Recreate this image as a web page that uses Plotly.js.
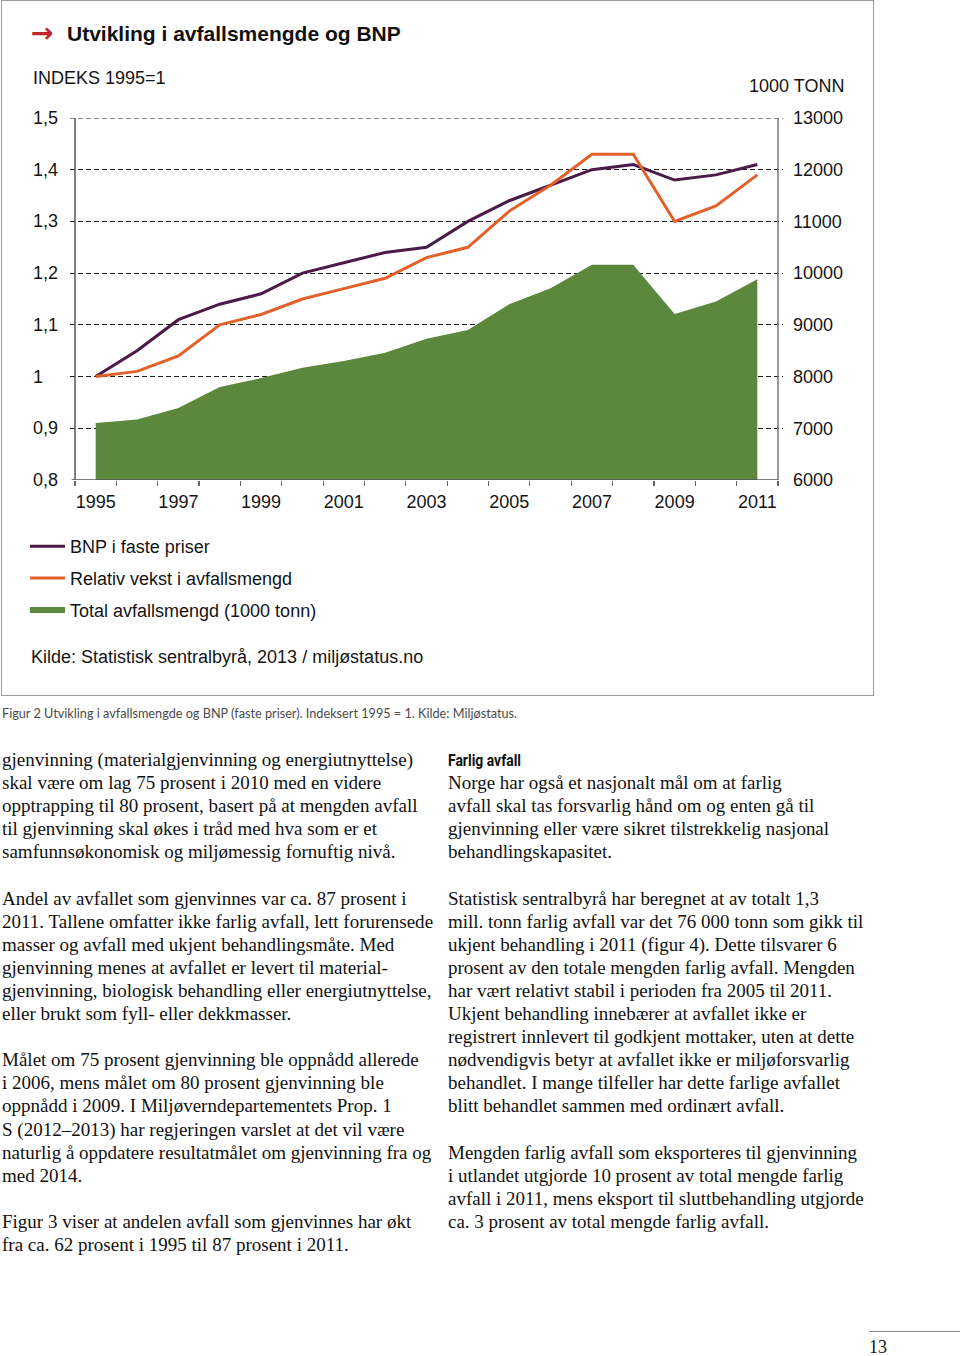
<!DOCTYPE html>
<html><head><meta charset="utf-8">
<script src="https://cdn.plot.ly/plotly-3.0.1.min.js"></script>
<style>
html,body{margin:0;padding:0;background:#fff;width:960px;height:1356px;overflow:hidden;position:relative;}
#box{position:absolute;left:1px;top:0;width:871px;height:694px;border:1px solid #9d9d9d;}
#chart{position:absolute;left:0;top:0;width:960px;height:700px;}
#caption{position:absolute;left:2px;top:705px;font-family:Lato,'Open Sans',sans-serif;font-size:13.5px;color:#4a4a4a;white-space:nowrap;transform-origin:0 0;}
.col{position:absolute;top:749px;font-family:'Liberation Serif',serif;font-size:18.3px;line-height:23.1px;color:#111;white-space:nowrap;transform-origin:0 0;}
#left{left:2px;}
#right{left:448px;}
.head{font-family:'Liberation Sans Narrow',Roboto,'Liberation Sans',sans-serif;font-weight:bold;font-size:16px;display:inline-block;transform-origin:0 50%;}
#pline{position:absolute;left:869px;top:1331px;width:91px;height:1px;background:#8a8a8a;}
#pnum{position:absolute;left:869px;top:1337px;font-family:'Liberation Serif',serif;font-size:18px;color:#151515;}
</style></head>
<body>
<div id="box"></div>
<div id="chart"></div>
<div id="caption">Figur 2 Utvikling i avfallsmengde og BNP (faste priser). Indeksert 1995 = 1. Kilde: Miljøstatus.</div>
<div class="col" id="left"><span id="lref">gjenvinning (materialgjenvinning og energiutnyttelse)</span><br>skal være om lag 75 prosent i 2010 med en videre<br>opptrapping til 80 prosent, basert på at mengden avfall<br>til gjenvinning skal økes i tråd med hva som er et<br>samfunnsøkonomisk og miljømessig fornuftig nivå.<br><br>Andel av avfallet som gjenvinnes var ca. 87 prosent i<br>2011. Tallene omfatter ikke farlig avfall, lett forurensede<br>masser og avfall med ukjent behandlingsmåte. Med<br>gjenvinning menes at avfallet er levert til material-<br>gjenvinning, biologisk behandling eller energiutnyttelse,<br>eller brukt som fyll- eller dekkmasser.<br><br>Målet om 75 prosent gjenvinning ble oppnådd allerede<br>i 2006, mens målet om 80 prosent gjenvinning ble<br>oppnådd i 2009. I Miljøverndepartementets Prop. 1<br>S (2012–2013) har regjeringen varslet at det vil være<br>naturlig å oppdatere resultatmålet om gjenvinning fra og<br>med 2014.<br><br>Figur 3 viser at andelen avfall som gjenvinnes har økt<br>fra ca. 62 prosent i 1995 til 87 prosent i 2011.</div>
<div class="col" id="right"><span class="head" id="head">Farlig avfall</span><br>Norge har også et nasjonalt mål om at farlig<br>avfall skal tas forsvarlig hånd om og enten gå til<br>gjenvinning eller være sikret tilstrekkelig nasjonal<br>behandlingskapasitet.<br><br>Statistisk sentralbyrå har beregnet at av totalt 1,3<br>mill. tonn farlig avfall var det 76 000 tonn som gikk til<br>ukjent behandling i 2011 (figur 4). Dette tilsvarer 6<br>prosent av den totale mengden farlig avfall. Mengden<br>har vært relativt stabil i perioden fra 2005 til 2011.<br>Ukjent behandling innebærer at avfallet ikke er<br>registrert innlevert til godkjent mottaker, uten at dette<br>nødvendigvis betyr at avfallet ikke er miljøforsvarlig<br>behandlet. I mange tilfeller har dette farlige avfallet<br>blitt behandlet sammen med ordinært avfall.<br><br><span id="rref">Mengden farlig avfall som eksporteres til gjenvinning</span><br>i utlandet utgjorde 10 prosent av total mengde farlig<br>avfall i 2011, mens eksport til sluttbehandling utgjorde<br>ca. 3 prosent av total mengde farlig avfall.</div>
<div id="pline"></div>
<div id="pnum">13</div>
<script>
// ---- data ----
const years = [1995,1996,1997,1998,1999,2000,2001,2002,2003,2004,2005,2006,2007,2008,2009,2010,2011];
const bnpIndeks = [1.00,1.05,1.11,1.14,1.16,1.20,1.22,1.24,1.25,1.30,1.34,1.37,1.40,1.41,1.38,1.39,1.41];
const avfallIndeks = [1.00,1.01,1.04,1.10,1.12,1.15,1.17,1.19,1.23,1.25,1.32,1.37,1.43,1.43,1.30,1.33,1.39];
const avfallTotal = [7100,7170,7390,7800,7970,8170,8300,8460,8730,8900,9400,9710,10160,10160,9210,9450,9880];
const xLabelYears = [1995,1997,1999,2001,2003,2005,2007,2009,2011];
const idxTicks = [0.8,0.9,1.0,1.1,1.2,1.3,1.4,1.5];
const idxLabels = ['0,8','0,9','1','1,1','1,2','1,3','1,4','1,5'];
const tonnTicks = [6000,7000,8000,9000,10000,11000,12000,13000];
const tonnLabels = ['6000','7000','8000','9000','10000','11000','12000','13000'];
const seriesNames = ['BNP i faste priser','Relativ vekst i avfallsmengd','Total avfallsmengd (1000 tonn)'];
const titleText = 'Utvikling i avfallsmengde og BNP';
const leftAxisTitle = 'INDEKS 1995=1';
const rightAxisTitle = '1000 TONN';
const sourceText = 'Kilde: Statistisk sentralbyrå, 2013 / miljøstatus.no';

// ---- geometry ----
const W = 960, H = 700;
const mL = 70, mR = 177, mT = 118, mB = 220;
const pw = W - mL - mR, ph = H - mT - mB;
const px2paperX = p => (p - mL) / pw;
const px2paperY = p => (H - mB - p) / ph;
const catW = pw / (years.length + 10/41.35);
const ext = 5 / catW;
const xMin = years[0] - 0.5, xMax = years[years.length-1] + 0.5;
const xRange = [xMin - ext, xMax + ext];
const yRange = [idxTicks[0], idxTicks[idxTicks.length-1]];
const y2Range = [tonnTicks[0], tonnTicks[tonnTicks.length-1]];

const font = 'Liberation Sans, Arial, sans-serif';
const txt = '#141414';

const traces = [
  {x: years, y: bnpIndeks, name: seriesNames[0], type: 'scatter', mode: 'lines',
   line: {color: '#4b1a49', width: 3}, legendgroup: 'a', hoverinfo: 'skip'},
  {x: years, y: avfallIndeks, name: seriesNames[1], type: 'scatter', mode: 'lines',
   line: {color: '#e2602a', width: 3}, legendgroup: 'b', hoverinfo: 'skip'},
  {x: years, y: avfallTotal, name: seriesNames[2], type: 'scatter', mode: 'none',
   fill: 'tozeroy', fillcolor: '#5c883d', yaxis: 'y2', legendgroup: 'c', hoverinfo: 'skip'}
];

const annotations = [];
idxTicks.forEach((v, i) => annotations.push({
  xref: 'paper', yref: 'y', x: px2paperX(31), y: v, xanchor: 'left', yanchor: 'middle',
  text: idxLabels[i], showarrow: false, font: {family: font, size: 18, color: txt}
}));
annotations.push({xref:'paper', yref:'paper', x: px2paperX(29), y: px2paperY(32), xanchor:'left', yanchor:'middle',
  text:'<b>→</b>', showarrow:false, font:{family:'DejaVu Sans, sans-serif', size:27, color:'#c0272d'}});
annotations.push({xref:'paper', yref:'paper', x: px2paperX(65), y: px2paperY(33), xanchor:'left', yanchor:'middle',
  text:'<b>'+titleText+'</b>', showarrow:false, font:{family:font, size:21, color:'#111'}});
annotations.push({xref:'paper', yref:'paper', x: px2paperX(31), y: px2paperY(78), xanchor:'left', yanchor:'middle',
  text:leftAxisTitle, showarrow:false, font:{family:font, size:18, color:txt}});
annotations.push({xref:'paper', yref:'paper', x: px2paperX(747), y: px2paperY(86), xanchor:'left', yanchor:'middle',
  text:rightAxisTitle, showarrow:false, font:{family:font, size:18, color:txt}});
annotations.push({xref:'paper', yref:'paper', x: px2paperX(29), y: px2paperY(657), xanchor:'left', yanchor:'middle',
  text:sourceText, showarrow:false, font:{family:font, size:18, color:txt}});

const gridTop = idxTicks[idxTicks.length-1];
const shapes = [
  {type:'line', xref:'x', yref:'y', x0:xRange[0], x1:xRange[1], y0:gridTop, y1:gridTop, line:{color:'#1a1a1a', width:1, dash:'5px,3px'}},
  {type:'line', xref:'x', yref:'y', x0:xMin, x1:xMin, y0:yRange[0], y1:yRange[1], line:{color:'#555', width:1.5}},
  {type:'line', xref:'x', yref:'y', x0:xMax, x1:xMax, y0:yRange[0], y1:yRange[1], line:{color:'#777', width:1.5}},
  {type:'line', xref:'x', yref:'y', x0:xMin - 0.08, x1:xMax, y0:yRange[0], y1:yRange[0], line:{color:'#555', width:1.5}}
];

const halfYears = [];
for (let i = 0; i <= years.length; i++) halfYears.push(years[0] - 0.5 + i);

const layout = {
  width: W, height: H,
  margin: {l: mL, r: mR, t: mT, b: mB, pad: 0},
  paper_bgcolor: 'rgba(0,0,0,0)', plot_bgcolor: 'rgba(0,0,0,0)',
  showlegend: true,
  legend: {x: px2paperX(25), xanchor: 'left', y: px2paperY(528), yanchor: 'top',
           bgcolor: 'rgba(0,0,0,0)', font: {family: font, size: 18, color: txt},
           itemwidth: 35, tracegroupgap: 5.5, traceorder: 'grouped'},
  xaxis: {range: xRange, tickmode: 'array', tickvals: xLabelYears, ticktext: xLabelYears.map(String),
          ticks: '', showgrid: false, zeroline: false, showline: false, ticklabelstandoff: 9,
          tickfont: {family: font, size: 18, color: txt},
          minor: {tickmode: 'array', tickvals: halfYears, ticks: 'outside', ticklen: 5, tickcolor: '#666', tickwidth: 1.2, showgrid: false},
          fixedrange: true},
  yaxis: {range: yRange, tickmode: 'array', tickvals: idxTicks.filter(v => v > yRange[0]), showticklabels: false,
          ticks: '', showgrid: true, gridcolor: '#1a1a1a', gridwidth: 1, griddash: '5px,3px',
          zeroline: false, showline: false, fixedrange: true},
  yaxis2: {range: y2Range, overlaying: 'y', side: 'right', tickmode: 'array', tickvals: tonnTicks, ticktext: tonnLabels,
           ticks: '', showgrid: false, zeroline: false, showline: false, ticklabelstandoff: 9,
           tickfont: {family: font, size: 18, color: txt}, fixedrange: true},
  annotations: annotations,
  shapes: shapes
};

Plotly.newPlot('chart', traces, layout, {staticPlot: true, displayModeBar: false});

// fit caption and text columns to the reference widths
function fit(el, ref, target) {
  const w = ref.getBoundingClientRect().width;
  el.style.transform = 'scaleX(' + (target / w) + ')';
}
const cap = document.getElementById('caption');
fit(cap, cap, 515);
fit(document.getElementById('left'), document.getElementById('lref'), 411);
fit(document.getElementById('right'), document.getElementById('rref'), 409);
const hd = document.getElementById('head');
const hw = hd.getBoundingClientRect().width;
const rs = 409 / document.getElementById('rref').getBoundingClientRect().width;
hd.style.transform = 'scaleX(' + (73 / (hw * rs)) + ')';
</script>
</body></html>
